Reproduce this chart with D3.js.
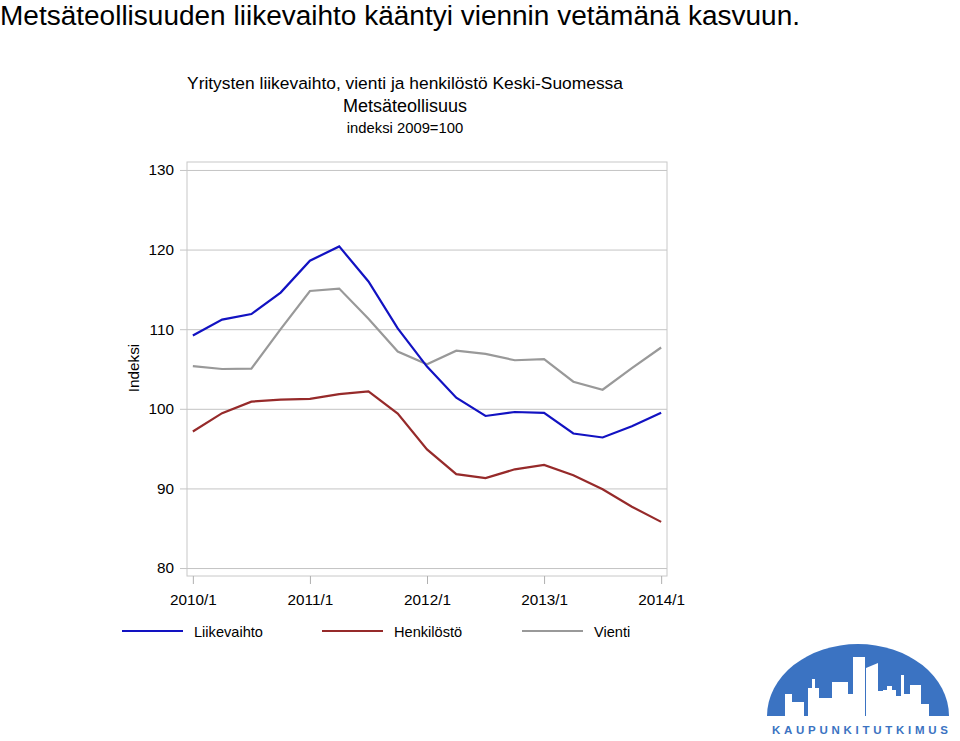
<!DOCTYPE html>
<html>
<head>
<meta charset="utf-8">
<script src="https://cdn.jsdelivr.net/npm/d3@7"></script>
<style>
  html, body { margin: 0; padding: 0; background: #fff; }
  svg { display: block; font-family: "Liberation Sans", Arial, sans-serif; }
</style>
</head>
<body>
<svg id="chart" width="960" height="741"></svg>
<script>
// ---- data ----
const periods = ["2010/1","2010/2","2010/3","2010/4","2011/1","2011/2","2011/3","2011/4",
                 "2012/1","2012/2","2012/3","2012/4","2013/1","2013/2","2013/3","2013/4","2014/1"];
const liikevaihto = [109.2,111.2,111.9,114.6,118.6,120.4,116.0,110.1,105.3,101.4,99.1,99.6,99.5,96.9,96.4,97.8,99.5];
const henkilosto  = [97.15,99.45,100.9,101.15,101.25,101.85,102.2,99.4,94.9,91.8,91.3,92.4,92.95,91.65,89.9,87.7,85.8];
const vienti      = [105.35,105.0,105.05,110.0,114.8,115.1,111.3,107.2,105.6,107.3,106.9,106.1,106.25,103.4,102.4,105.1,107.7];
const yTicks = [80, 90, 100, 110, 120, 130];
const xTickLabels = ["2010/1","2011/1","2012/1","2013/1","2014/1"];
const seriesNames = ["Liikevaihto","Henkilöstö","Vienti"];
const seriesColors = ["#1212c2","#962a2a","#999999"];
const mainTitle = "Metsäteollisuuden liikevaihto kääntyi viennin vetämänä kasvuun.";
const chartTitles = ["Yritysten liikevaihto, vienti ja henkilöstö Keski-Suomessa","Metsäteollisuus","indeksi 2009=100"];
const yLabel = "Indeksi";
const logoText = "KAUPUNKITUTKIMUS";

const series = [liikevaihto, henkilosto, vienti];

const svg = d3.select("#chart");

// ---- titles ----
svg.append("text").attr("x", 0).attr("y", 24.5)
  .attr("font-size", 27).attr("fill", "#000")
  .attr("textLength", 800).attr("lengthAdjust", "spacingAndGlyphs").text(mainTitle);

svg.append("text").attr("x", 405).attr("y", 89).attr("text-anchor", "middle")
  .attr("font-size", 17.4).attr("fill", "#000").text(chartTitles[0]);
svg.append("text").attr("x", 405).attr("y", 112).attr("text-anchor", "middle")
  .attr("font-size", 18).attr("fill", "#000").text(chartTitles[1]);
svg.append("text").attr("x", 405).attr("y", 133).attr("text-anchor", "middle")
  .attr("font-size", 14.8).attr("fill", "#000").text(chartTitles[2]);

// ---- scales ----
const L = 187, R = 667, T = 162, B = 576;
const x = d3.scaleLinear().domain([-0.2, periods.length - 1 + 0.2]).range([L, R]);
const y = d3.scaleLinear().domain([79, 131]).range([B, T]);

// gridlines + y labels
const gy = svg.append("g").attr("transform", `translate(${R},0)`);
gy.call(d3.axisLeft(y).tickValues(yTicks).tickSize(R - L + 7).tickPadding(6).tickFormat(d3.format("d")));
gy.select(".domain").remove();
gy.selectAll(".tick line").attr("stroke", "#c4c4c4").attr("stroke-width", 1);
gy.selectAll(".tick text").attr("font-size", 15.3).attr("fill", "#000")
  .attr("font-family", "Liberation Sans, Arial, sans-serif");

// frame
svg.append("rect").attr("x", L).attr("y", T).attr("width", R - L).attr("height", B - T)
  .attr("fill", "none").attr("stroke", "#c8c8c8").attr("stroke-width", 1);

// x axis
const xTickIdx = xTickLabels.map(l => periods.indexOf(l));
const gx = svg.append("g").attr("transform", `translate(0,${B})`);
gx.call(d3.axisBottom(x).tickValues(xTickIdx).tickSize(8).tickPadding(10)
  .tickFormat(i => periods[i]));
gx.select(".domain").remove();
gx.selectAll(".tick line").attr("stroke", "#b0b0b0");
gx.selectAll(".tick text").attr("font-size", 15.3).attr("fill", "#000")
  .attr("font-family", "Liberation Sans, Arial, sans-serif");

// y label
svg.append("text").attr("transform", "translate(139,368) rotate(-90)")
  .attr("text-anchor", "middle").attr("font-size", 15.3).attr("fill", "#000").text(yLabel);

// lines
const line = d3.line().x((d, i) => x(i)).y(d => y(d));
const order = [2, 1, 0];
order.forEach(k => {
  svg.append("path").datum(series[k]).attr("d", line)
    .attr("fill", "none").attr("stroke", seriesColors[k]).attr("stroke-width", 2.2)
    .attr("stroke-linejoin", "miter");
});

// legend
const legX = [122, 322, 522];
seriesNames.forEach((name, k) => {
  svg.append("line").attr("x1", legX[k]).attr("x2", legX[k] + 61)
    .attr("y1", 631).attr("y2", 631)
    .attr("stroke", seriesColors[k]).attr("stroke-width", 2.2);
  svg.append("text").attr("x", legX[k] + 72).attr("y", 637)
    .attr("font-size", 14.6).attr("fill", "#000").text(name);
});

// ---- logo ----
const logo = svg.append("g");
const blue = "#3b73c2";
const cx = 858, by = 716, rx = 91, ry = 72;
logo.append("path")
  .attr("d", `M${cx - rx},${by} A${rx},${ry} 0 0 1 ${cx + rx},${by} Z`)
  .attr("fill", blue);
// white skyline (decorative)
const sky = [
  [785, 716, 7, 22], [789, 710, 2, 16],
  [792, 716, 12, 14],
  [808, 716, 11, 28], [812, 716, 3, 37],
  [819, 716, 13, 18],
  [832, 716, 16, 34],
  [848, 716, 5, 22],
  [853, 716, 12, 59],
  [866, 716, 12, 48],
  [878, 716, 5, 25],
  [883, 716, 13, 26], [887, 716, 5, 30],
  [896, 716, 5, 20],
  [901, 716, 3, 41],
  [904, 716, 6, 22],
  [910, 716, 11, 31],
  [921, 716, 8, 12]
];
sky.forEach(b => {
  logo.append("rect").attr("x", b[0]).attr("y", b[1] - b[3]).attr("width", b[2]).attr("height", b[3])
    .attr("fill", "#fff");
});
logo.append("path").attr("d", "M866,668 L878,663 L878,670 L866,670 Z").attr("fill", "#fff");
logo.append("rect").attr("x", 760).attr("y", 716).attr("width", 200).attr("height", 25).attr("fill", "#fff");
logo.append("text").attr("x", 772).attr("y", 734)
  .attr("font-size", 11.5).attr("font-weight", "bold")
  .attr("textLength", 176).attr("lengthAdjust", "spacing")
  .attr("fill", blue).text(logoText);
</script>
</body>
</html>
